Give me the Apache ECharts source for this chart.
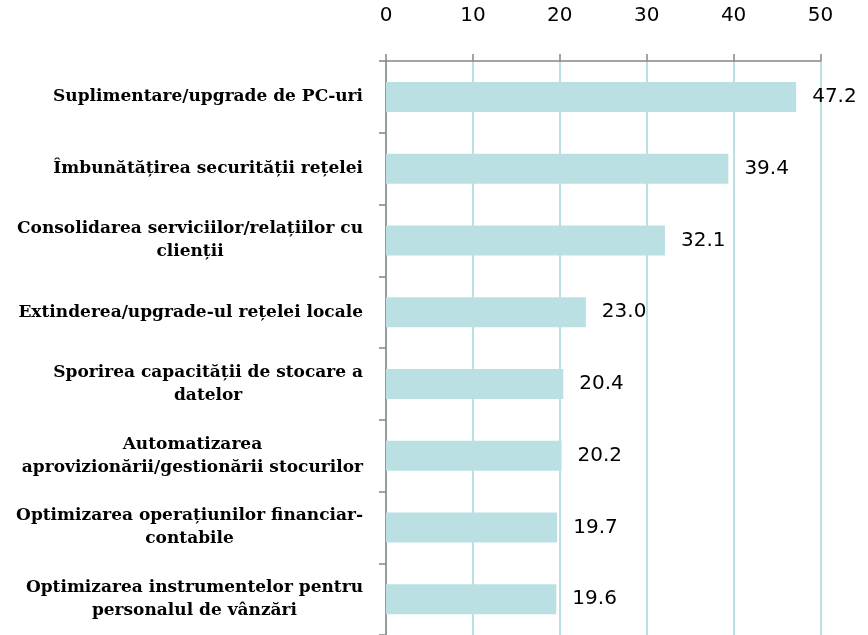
<!DOCTYPE html>
<html>
<head>
<meta charset="utf-8">
<script src="https://cdn.jsdelivr.net/npm/echarts@6/dist/echarts.min.js"></script>
<style>
  html, body { margin: 0; padding: 0; background: #fff; }
  #chart { width: 868px; height: 635px; }
</style>
</head>
<body>
<div id="chart"></div>
<script>
  // Categories (top to bottom), each line of a label as its own string
  var categories = [
    ['Suplimentare/upgrade de PC-uri'],
    ['Îmbunătățirea securității rețelei'],
    ['Consolidarea serviciilor/relațiilor cu', 'clienții'],
    ['Extinderea/upgrade-ul rețelei locale'],
    ['Sporirea capacității de stocare a', 'datelor'],
    ['Automatizarea', 'aprovizionării/gestionării stocurilor'],
    ['Optimizarea operațiunilor financiar-', 'contabile'],
    ['Optimizarea instrumentelor pentru', 'personalul de vânzări']
  ];
  var values = [47.2, 39.4, 32.1, 23.0, 20.4, 20.2, 19.7, 19.6];

  var barColor = '#bae0e3';
  var axisGrey = '#878787';

  var chart = echarts.init(document.getElementById('chart'));

  chart.setOption({
    animation: false,
    backgroundColor: '#fff',
    grid: { left: 386, right: 47.5, top: 61, height: 576 },
    xAxis: {
      type: 'value',
      position: 'top',
      min: 0,
      max: 50,
      interval: 10,
      axisLine: { show: true, lineStyle: { color: axisGrey, width: 1.5 } },
      axisTick: { show: true, length: 7, lineStyle: { color: axisGrey, width: 1.5 } },
      axisLabel: {
        margin: 35,
        color: '#000',
        fontFamily: 'DejaVu Sans',
        fontSize: 20
      },
      splitLine: { show: true, lineStyle: { color: barColor, width: 2 } }
    },
    yAxis: {
      type: 'category',
      inverse: true,
      data: categories.map(function (c) { return c.join('\n'); }),
      axisLine: { show: true, lineStyle: { color: axisGrey, width: 1.5 } },
      axisTick: { show: true, length: 7, lineStyle: { color: axisGrey, width: 1.5 } },
      axisLabel: {
        margin: 23,
        align: 'right',
        formatter: function (v) {
          return v.split('\n').map(function (line) { return '{c|' + line + '}'; }).join('\n');
        },
        rich: {
          c: {
            align: 'center',
            color: '#000',
            fontFamily: 'DejaVu Serif',
            fontWeight: 'bold',
            fontSize: 17,
            lineHeight: 23
          }
        }
      }
    },
    series: [{
      type: 'bar',
      data: values,
      barWidth: 30,
      itemStyle: { color: barColor },
      label: {
        show: true,
        position: 'right',
        distance: 16,
        color: '#000',
        fontFamily: 'DejaVu Sans',
        fontSize: 20,
        formatter: function (p) { return p.value.toFixed(1); }
      }
    }]
  });
</script>
</body>
</html>
